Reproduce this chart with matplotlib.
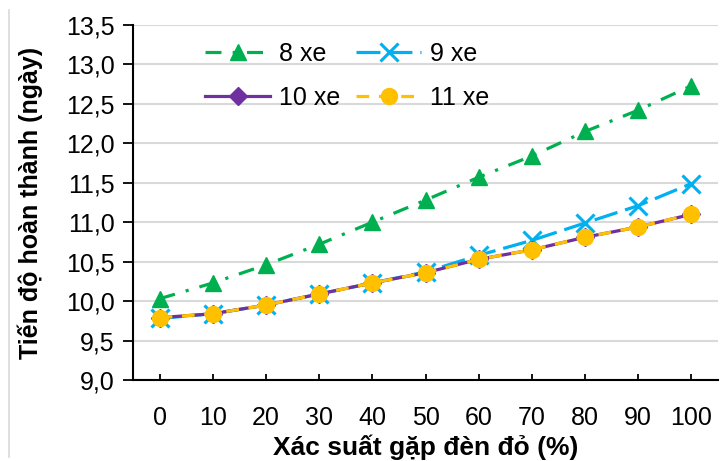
import numpy as np
import matplotlib
matplotlib.use("Agg")
import matplotlib.pyplot as plt
from matplotlib.lines import Line2D

plt.rcParams['font.family'] = ['Liberation Sans', 'DejaVu Sans']

# data
prob = ["0", "10", "20", "30", "40", "50", "60", "70", "80", "90", "100"]
xe8 = [10.03, 10.23, 10.46, 10.72, 11.00, 11.28, 11.57, 11.84, 12.15, 12.42, 12.73]
xe9 = [9.78, 9.84, 9.95, 10.09, 10.23, 10.37, 10.58, 10.77, 10.99, 11.21, 11.49]
xe10 = [9.79, 9.84, 9.95, 10.09, 10.23, 10.36, 10.53, 10.65, 10.81, 10.94, 11.10]
xe11 = [9.79, 9.84, 9.95, 10.09, 10.23, 10.36, 10.53, 10.65, 10.81, 10.94, 11.10]
yticks = [9.0, 9.5, 10.0, 10.5, 11.0, 11.5, 12.0, 12.5, 13.0, 13.5]
ytick_labels = ["9,0", "9,5", "10,0", "10,5", "11,0", "11,5", "12,0", "12,5", "13,0", "13,5"]

fig = plt.figure(figsize=(7.2, 4.61), dpi=100)
ax = fig.add_axes([133/720, 1-380/461, 585/720, 355/461])

x = np.arange(len(prob))
lw = 2.3
l8, = ax.plot(x, xe8, color='#00B050', lw=lw, dashes=(5, 3.5, 1, 3.5),
              marker='^', ms=12, label='8 xe', zorder=3)
l9, = ax.plot(x, xe9, color='#00B0F0', lw=lw, dashes=(7.5, 2.5),
              marker='x', ms=13, mew=2.2, label='9 xe', zorder=3)
l10, = ax.plot(x, xe10, color='#7030A0', lw=lw, marker='D', ms=9,
               label='10 xe', zorder=4)
l11, = ax.plot(x, xe11, color='#FFC000', lw=lw, dashes=(4, 3),
               marker='o', ms=11.5, label='11 xe', zorder=5)

ax.set_xlim(-0.5, len(prob) - 0.5)
ax.set_ylim(9.0, 13.5)
ax.set_yticks(yticks)
ax.set_yticklabels(ytick_labels)
ax.set_xticks(x)
ax.set_xticklabels(prob)
ax.grid(axis='y', color='#d9d9d9', lw=1.5)
ax.set_axisbelow(True)

for s in ['top', 'right']:
    ax.spines[s].set_visible(False)
for s in ['left', 'bottom']:
    ax.spines[s].set_linewidth(1.5)
    ax.spines[s].set_color('black')

ax.tick_params(axis='y', direction='out', length=7, width=1.3, labelsize=18, pad=6)
ax.tick_params(axis='x', direction='in', length=4, width=1.3, labelsize=18, pad=19)

ax.set_xlabel("Xác suất gặp đèn đỏ (%)", fontsize=19, fontweight='bold', labelpad=3)
ax.set_ylabel("Tiến độ hoàn thành (ngày)", fontsize=18, fontweight='bold')
ax.yaxis.set_label_coords(-0.154, 0.5)

ax.legend(handles=[l8, l10, l9, l11], ncol=2, frameon=False, fontsize=18,
          loc='upper left', bbox_to_anchor=(0.085, 1.015), handlelength=2.6,
          labelspacing=0.8, columnspacing=0.65, handletextpad=0.35)

# thin grey edge of the chart area
fig.add_artist(Line2D([9/720, 9/720], [4/461, 451/461], color='#d9d9d9', lw=1.2))

fig.savefig("out.png", dpi=100)
